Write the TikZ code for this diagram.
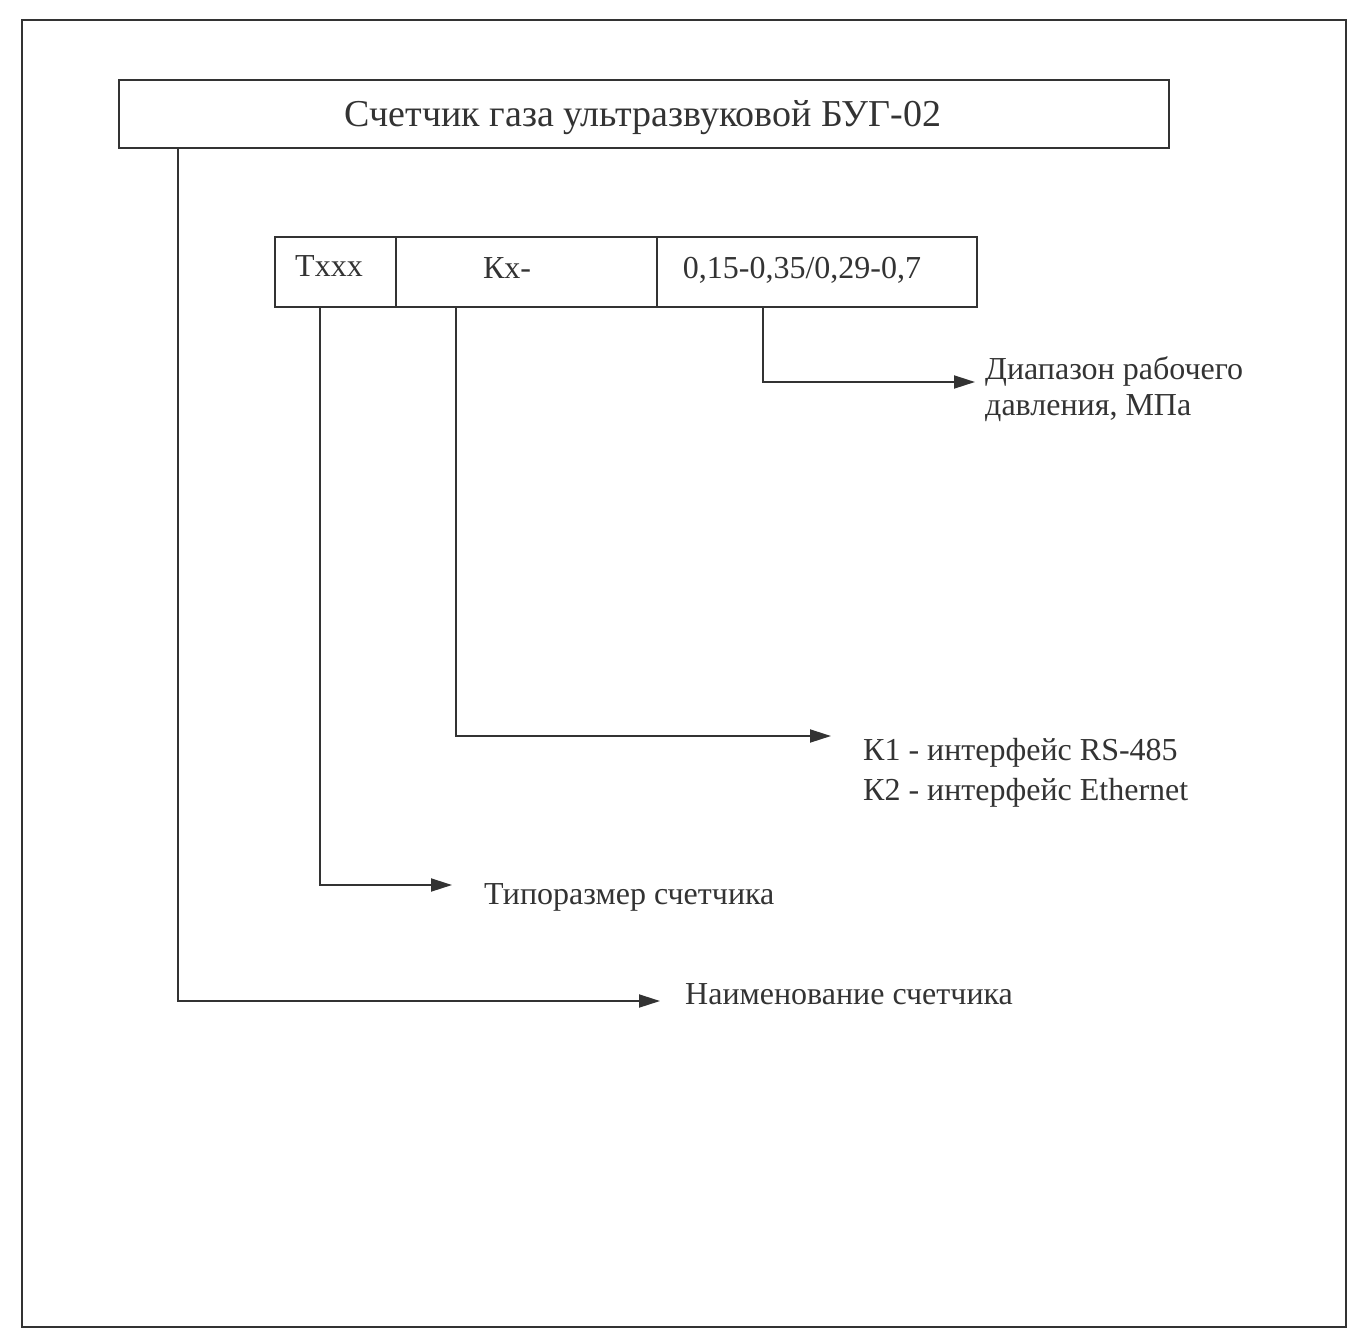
\documentclass[tikz,border=0pt]{standalone}
\usepackage{fontspec}
\setmainfont{Liberation Serif}
\usetikzlibrary{arrows.meta}
\definecolor{ink}{HTML}{333333}
\begin{document}
\begin{tikzpicture}[x=1pt,y=-1pt,
  line/.style={draw=ink,line width=1.9pt},
  arr/.style={line,-{Triangle[length=21pt,width=13pt]}},
  cell/.style={draw=ink,line width=1.9pt,anchor=north west,inner sep=0pt},
  lbl/.style={text=ink,font=\fontsize{32}{39}\selectfont,inner sep=0pt,align=left}]
\useasboundingbox (0,0) rectangle (1351,1338);
% outer frame
\draw[line] (22,20) rectangle (1346,1327);
% title
\node[cell,minimum width=1050pt,minimum height=68pt] (title) at (118,79) {};
\node[text=ink,font=\fontsize{38}{44}\selectfont,inner sep=0pt] (tt) at (643,118) {Счетчик газа ультразвуковой БУГ-02};
% code row
\node[cell,minimum width=121pt,minimum height=70pt] (c1) at (274,236) {};
\node[cell,minimum width=261pt,minimum height=70pt] (c2) at (395,236) {};
\node[cell,minimum width=320pt,minimum height=70pt] (c3) at (656,236) {};
\node[lbl] (t1) at (329,266) {Txxx};
\node[lbl] (t2) at (507,268) {Кх-};
\node[lbl] (t3) at (802,270) {0,15-0,35/0,29-0,7};
% labels
\node[lbl,anchor=north west,font=\fontsize{32}{36}\selectfont] (lp) at (985,356) {Диапазон рабочего\\давления, МПа};
\node[lbl,anchor=north west,font=\fontsize{32}{40}\selectfont] (lk) at (863,738) {К1 - интерфейс RS-485\\К2 - интерфейс Ethernet};
\node[lbl,anchor=west] (lt) at (484,897) {Типоразмер счетчика};
\node[lbl,anchor=west] (ln) at (685,994) {Наименование счетчика};
% arrow ends
\coordinate (ep) at (975,382);
\coordinate (ek) at (831,736);
\coordinate (et) at (452,885);
\coordinate (en) at (660,1001);
% connectors
\draw[arr] (c3.south west -| 763,0) |- (ep);
\draw[arr] (c2.south west -| 456,0) |- (ek);
\draw[arr] (c1.south west -| 320,0) |- (et);
\draw[arr] (title.south west -| 178,0) |- (en);
\end{tikzpicture}
\end{document}
